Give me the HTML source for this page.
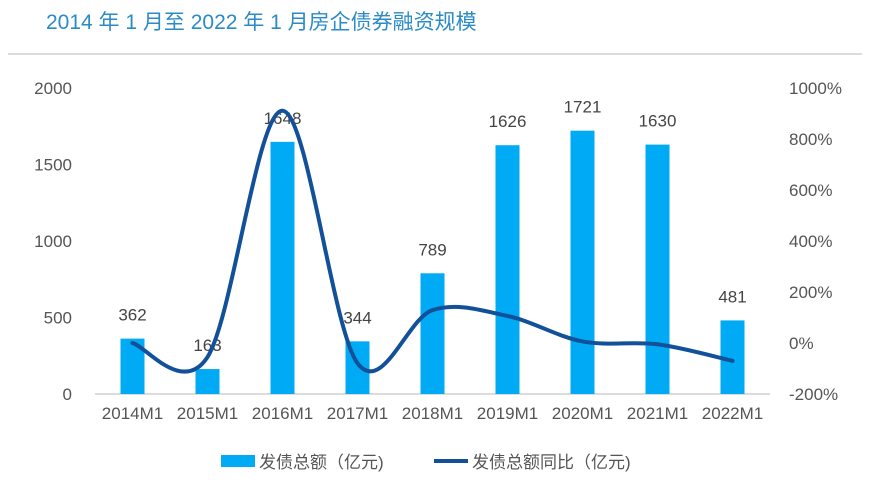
<!DOCTYPE html>
<html><head><meta charset="utf-8"><style>
body{margin:0;background:#fff;}
svg text{font-family:"Liberation Sans","Noto Sans CJK SC",sans-serif;}
</style></head><body>
<svg width="871" height="483" viewBox="0 0 871 483" xmlns="http://www.w3.org/2000/svg">
<text x="46" y="29" font-size="21" fill="#2a8bc6">2014 年 1 月至 2022 年 1 月房企债券融资规模</text>
<line x1="8" y1="54" x2="862" y2="54" stroke="#d0d0d0" stroke-width="1.5"/>
<g id="axes"></g>
<g id="bars"></g>
<g id="line"></g>
<g>
<rect x="221" y="455" width="34" height="12" fill="#00aaf5"/>
<text x="259" y="468" font-size="17" fill="#555">发债总额（亿元)</text>
<line x1="434" y1="461" x2="468" y2="461" stroke="#12509a" stroke-width="4"/>
<text x="472" y="468" font-size="17" fill="#555">发债总额同比（亿元)</text>
</g>
</svg>
<script>
const categories=["2014M1","2015M1","2016M1","2017M1","2018M1","2019M1","2020M1","2021M1","2022M1"];
const amounts=[362,163,1648,344,789,1626,1721,1630,481];
const yoy=[0,-55,911,-79,129,106,6,-5,-70];
const leftTicks=[0,500,1000,1500,2000];
const rightTicks=[-200,0,200,400,600,800,1000];
const NS="http://www.w3.org/2000/svg";
const x0=95,x1=770,yTop=88,yBot=394;
const step=(x1-x0)/categories.length;
function xPos(i){return x0+step*(i+0.5);}
function yL(v){return yBot-(v/2000)*(yBot-yTop);}
function yR(v){return yBot-((v+200)/1200)*(yBot-yTop);}
function mk(tag,attrs,parent){const e=document.createElementNS(NS,tag);for(const k in attrs)e.setAttribute(k,attrs[k]);parent.appendChild(e);return e;}
const axes=document.getElementById('axes'),bars=document.getElementById('bars'),lineG=document.getElementById('line');
const base=mk('line',{x1:x0,y1:yBot,x2:x1,y2:yBot,stroke:'#d0d0d0','stroke-width':1.5},axes);


leftTicks.forEach(v=>{const t=mk('text',{x:72,y:yL(v)+6,'font-size':17,fill:'#555','text-anchor':'end'},axes);t.textContent=v;

});
rightTicks.forEach(v=>{const t=mk('text',{x:789,y:yR(v)+6,'font-size':17,fill:'#555'},axes);t.textContent=v+'%';

});
categories.forEach((c,i)=>{const t=mk('text',{x:xPos(i),y:419,'font-size':17,fill:'#555','text-anchor':'middle'},axes);t.textContent=c;

});
amounts.forEach((v,i)=>{const r=mk('rect',{x:xPos(i)-12,y:yL(v),width:24,height:yBot-yL(v),fill:'#00aaf5'},bars);


const t=mk('text',{x:xPos(i),y:yL(v)-18,'font-size':17,fill:'#444','text-anchor':'middle'},bars);t.textContent=v;

});
const pts=yoy.map((v,i)=>[xPos(i),yR(v)]);
let d='M'+pts[0][0]+','+pts[0][1];
for(let i=0;i<pts.length-1;i++){const p0=pts[Math.max(i-1,0)],p1=pts[i],p2=pts[i+1],p3=pts[Math.min(i+2,pts.length-1)];
const c1=[p1[0]+(p2[0]-p0[0])/6,p1[1]+(p2[1]-p0[1])/6],c2=[p2[0]-(p3[0]-p1[0])/6,p2[1]-(p3[1]-p1[1])/6];
d+=' C'+c1+' '+c2+' '+p2;}
const path=mk('path',{d:d,fill:'none',stroke:'#12509a','stroke-width':4,'stroke-linecap':'round'},lineG);


</script>
</body></html>
